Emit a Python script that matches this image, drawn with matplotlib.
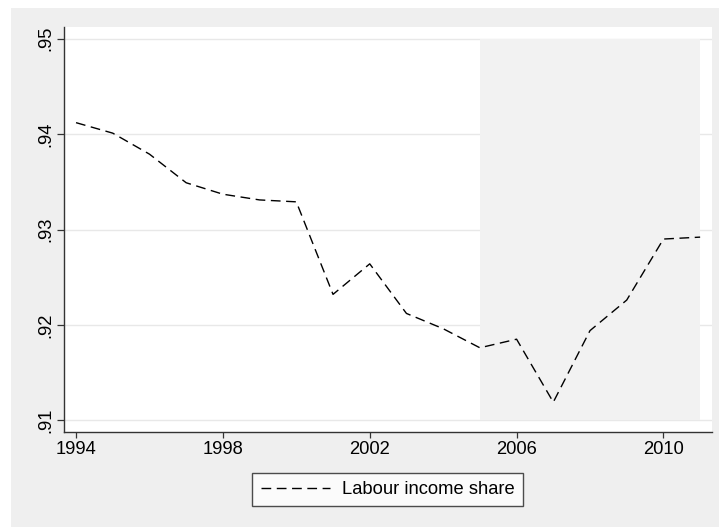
import matplotlib.pyplot as plt
from matplotlib.patches import Rectangle
from matplotlib.ticker import FuncFormatter

# --- data ---
years = [1994, 1995, 1996, 1997, 1998, 1999, 2000, 2001, 2002,
         2003, 2004, 2005, 2006, 2007, 2008, 2009, 2010, 2011]
labour_share = [0.9412, 0.9401, 0.9379, 0.9349, 0.9337, 0.9331, 0.9329, 0.9232, 0.9264,
                0.9212, 0.9196, 0.9176, 0.9185, 0.9119, 0.9194, 0.9226, 0.9290, 0.9292]
shade_years = [2005, 2011]
x_ticks = [1994, 1998, 2002, 2006, 2010]
y_ticks = [0.91, 0.92, 0.93, 0.94, 0.95]
legend_label = "Labour income share"

plt.rcParams['font.family'] = ['Liberation Sans', 'DejaVu Sans']
plt.rcParams['lines.scale_dashes'] = False

W, H = 719, 527
fig = plt.figure(figsize=(W / 100, H / 100), dpi=100, facecolor='white')

# outer grey graph region (Stata style)
fig.patches.append(Rectangle((11 / W, 0), 1 - 11 / W, 1 - 8 / H, transform=fig.transFigure,
                             facecolor='#efefef', edgecolor='none', zorder=-5))

ax = fig.add_axes([64.3 / W, 1 - 432.3 / H, (711.7 - 64.3) / W, (432.3 - 26.7) / H])
ax.set_zorder(2)
ax.set_facecolor('white')

# shaded period
ax.fill_between(shade_years, y_ticks[0], y_ticks[-1], color='#f2f2f2', lw=0, zorder=1)

line, = ax.plot(years, labour_share, color='black', lw=1.0, zorder=3, label=legend_label)
line.set_dashes((7.0, 4.0))

ax.set_xlim(1993.68, 2011.315)
ax.set_ylim(0.90874, 0.95126)
ax.set_xticks(x_ticks)
ax.set_yticks(y_ticks)
ax.yaxis.set_major_formatter(FuncFormatter(lambda v, p: ("%.2f" % v).lstrip('0')))
ax.grid(axis='y', color='#e8e8e8', lw=1.0, zorder=0)
ax.set_axisbelow(True)

for s in ['top', 'right']:
    ax.spines[s].set_visible(False)
for s in ['left', 'bottom']:
    ax.spines[s].set_color('#333333')
    ax.spines[s].set_linewidth(1.0)

ax.tick_params(axis='x', length=4.5, width=0.9, color='#333333', labelsize=13.2, pad=2)
ax.tick_params(axis='y', length=5, width=0.9, color='#333333', labelsize=13.2, pad=2)
for lbl in ax.get_yticklabels():
    lbl.set_rotation(90)
    lbl.set_va('center')

leg = fig.legend(handles=[line], loc='center', bbox_to_anchor=(387.9 / W, 1 - 489.5 / H),
                 fontsize=13.2, frameon=True, fancybox=False, handlelength=3.8,
                 borderpad=0.45, handletextpad=0.65, borderaxespad=0)
leg.set_zorder(5)
leg.get_frame().set_edgecolor('#222222')
leg.get_frame().set_linewidth(1.0)
leg.get_frame().set_facecolor('white')

fig.savefig('out.png', dpi=100, facecolor=fig.get_facecolor())
